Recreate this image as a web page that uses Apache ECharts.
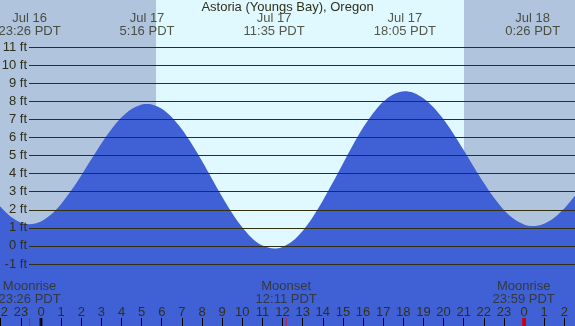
<!DOCTYPE html>
<html>
<head>
<meta charset="utf-8">
<title>Astoria (Youngs Bay), Oregon</title>
<script src="https://cdn.jsdelivr.net/npm/echarts@6/dist/echarts.min.js"></script>
<style>
  html, body { margin: 0; padding: 0; background: #fff; }
  #tideChart { width: 575px; height: 326px; }
</style>
</head>
<body>
<div id="tideChart"></div>
<script>
// hours counted from Jul 17 0:00 PDT, heights in feet
var tideHours = [-2.5, -2, -1.5, -1, -0.567, 0, 0.5, 1, 1.5, 2, 2.5, 3, 3.5, 4, 4.5, 5, 5.267, 5.5, 6, 6.5, 7, 7.5, 8, 8.5, 9, 9.5, 10, 10.5, 11, 11.583, 12, 12.5, 13, 13.5, 14, 14.5, 15, 15.5, 16, 16.5, 17, 17.5, 18.083, 18.5, 19, 19.5, 20, 20.5, 21, 21.5, 22, 22.5, 23, 23.5, 24, 24.433, 25, 25.5, 26, 26.5, 27]
var tideFeet = [2.86, 2.15, 1.61, 1.29, 1.2, 1.35, 1.73, 2.32, 3.06, 3.9, 4.79, 5.67, 6.45, 7.11, 7.57, 7.82, 7.85, 7.82, 7.59, 7.12, 6.45, 5.62, 4.69, 3.7, 2.72, 1.81, 1.03, 0.41, 0.02, -0.15, -0.06, 0.27, 0.83, 1.59, 2.5, 3.5, 4.55, 5.58, 6.53, 7.33, 7.97, 8.38, 8.55, 8.47, 8.17, 7.67, 7.0, 6.19, 5.3, 4.38, 3.49, 2.68, 1.99, 1.49, 1.19, 1.1, 1.23, 1.56, 2.07, 2.73, 3.48]

// high / low tide labels along the top
var extremeHours = [-0.567, 5.267, 11.583, 18.083, 24.433]
var extremeDates = ['Jul 16', 'Jul 17', 'Jul 17', 'Jul 17', 'Jul 18']
var extremeTimes = ['23:26 PDT', '5:16 PDT', '11:35 PDT', '18:05 PDT', '0:26 PDT']

// sunrise 5:43, sunset 21:01
var sunrise = 5.714
var sunset = 21.02

// moon events along the bottom
var moonHours = [-0.567, 12.183, 23.983]
var moonNames = ['Moonrise', 'Moonset', 'Moonrise']
var moonTimes = ['23:26 PDT', '12:11 PDT', '23:59 PDT']

var hourTicks = [-2, -1, 0, 1, 2, 3, 4, 5, 6, 7, 8, 9, 10, 11, 12, 13, 14, 15, 16, 17, 18, 19, 20, 21, 22, 23, 24, 25, 26]
var midnights = [0, 24]

// pixel layout of the main grid (whole canvas)
var W = 575
var H = 326
var X0 = 41        // x of Jul 17 0:00
var PX_HOUR = 20.125
var Y0 = 245.9     // y of 0 ft
var PX_FOOT = 18.08
function hAt (px) { return (px - X0) / PX_HOUR }
function ftAt (py) { return (Y0 - py) / PX_FOOT }

var xMin = hAt(0)
var xMax = hAt(W)
var yMin = ftAt(H)
var yMax = ftAt(0)

var TEXT = '#303018'
var LINE = '#303010'
var FONT = '"Liberation Sans", Arial, sans-serif'

var tideData = []
for (var i = 0; i < tideHours.length; i++) {
  tideData.push([tideHours[i], tideFeet[i]])
}

var topData = []
for (var i = 0; i < extremeHours.length; i++) {
  topData.push({ value: [extremeHours[i], ftAt(25)], label: { formatter: extremeDates[i] + '\n' + extremeTimes[i] } })
}

var moonData = []
for (var i = 0; i < moonHours.length; i++) {
  moonData.push({ value: [moonHours[i], ftAt(293)], label: { formatter: moonNames[i] + '\n' + moonTimes[i] } })
}

// thick black ticks at midnight, red ticks for the moon
var markTicks = []
for (var i = 0; i < midnights.length; i++) {
  markTicks.push({ value: [midnights[i], ftAt(322)], symbolSize: [3, 8], itemStyle: { color: '#000' } })
}
for (var i = 0; i < moonHours.length; i++) {
  var nearMidnight = Math.abs(moonHours[i] - Math.round(moonHours[i] / 24) * 24) < 0.1
  markTicks.push({ value: [moonHours[i], ftAt(322)], symbolSize: [nearMidnight ? 3 : 1, 8], itemStyle: { color: '#ff0000' } })
}

var chart = echarts.init(document.getElementById('tideChart'), null, { renderer: 'canvas' })
var option = {
  animation: false,
  backgroundColor: '#e0f8ff',
  textStyle: { fontFamily: FONT },
  title: {
    text: 'Astoria (Youngs Bay), Oregon',
    left: 'center',
    top: 1,
    padding: 0,
    textStyle: { fontFamily: FONT, fontSize: 13, fontWeight: 'normal', color: TEXT }
  },
  grid: [
    { left: 0, right: 0, top: 0, bottom: 0, containLabel: false, outerBoundsMode: 'none' },
    { left: 29, right: 0, top: 47, bottom: H - 264, containLabel: false, outerBoundsMode: 'none' }
  ],
  xAxis: [
    {
      type: 'value',
      gridIndex: 0,
      min: xMin,
      max: xMax,
      axisLine: { show: false, onZero: false },
      splitLine: { show: false },
      axisTick: { show: true, inside: true, length: 8, customValues: hourTicks, lineStyle: { color: '#000', width: 1 } },
      axisLabel: {
        show: true,
        inside: true,
        margin: 14,
        verticalAlign: 'middle',
        customValues: hourTicks,
        color: TEXT,
        fontSize: 13,
        fontFamily: FONT,
        formatter: function (v) { return String(((Math.round(v) % 24) + 24) % 24) }
      },
      z: 6
    },
    { type: 'value', gridIndex: 1, min: 0, max: 1, show: false, axisLine: { onZero: false } }
  ],
  yAxis: [
    { type: 'value', gridIndex: 0, min: yMin, max: yMax, show: false },
    {
      type: 'value',
      gridIndex: 1,
      min: -1,
      max: 11,
      interval: 1,
      z: 5,
      axisLine: { show: false },
      axisTick: { show: false },
      axisLabel: {
        margin: 2,
        color: TEXT,
        fontSize: 13,
        fontFamily: FONT,
        formatter: function (v) { return v + ' ft' }
      },
      splitLine: { show: true, lineStyle: { color: LINE, width: 1 } }
    }
  ],
  series: [
    {
      name: 'tide',
      type: 'line',
      xAxisIndex: 0,
      yAxisIndex: 0,
      data: tideData,
      smooth: 0.3,
      symbol: 'none',
      lineStyle: { width: 0 },
      areaStyle: { color: '#4060d5', opacity: 1, origin: 'start' },
      silent: true,
      z: 2,
      markArea: {
        silent: true,
        itemStyle: { color: '#b0c4de', opacity: 1 },
        data: [
          [{ xAxis: xMin }, { xAxis: sunrise }],
          [{ xAxis: sunset }, { xAxis: xMax }]
        ]
      }
    },
    {
      name: 'extremes',
      type: 'scatter',
      xAxisIndex: 0,
      yAxisIndex: 0,
      symbolSize: 0,
      silent: true,
      data: topData,
      label: { show: true, position: 'inside', align: 'center', verticalAlign: 'middle', lineHeight: 13, fontSize: 13, fontFamily: FONT, color: TEXT },
      z: 6
    },
    {
      name: 'moon',
      type: 'scatter',
      xAxisIndex: 0,
      yAxisIndex: 0,
      symbolSize: 0,
      silent: true,
      data: moonData,
      label: { show: true, position: 'inside', align: 'center', verticalAlign: 'middle', lineHeight: 13, fontSize: 13, fontFamily: FONT, color: TEXT },
      z: 6
    },
    {
      name: 'ticks',
      type: 'scatter',
      xAxisIndex: 0,
      yAxisIndex: 0,
      symbol: 'rect',
      silent: true,
      data: markTicks,
      z: 7
    },
    { name: 'levels', type: 'line', xAxisIndex: 1, yAxisIndex: 1, data: [] }
  ]
}
chart.setOption(option)
</script>
</body>
</html>
